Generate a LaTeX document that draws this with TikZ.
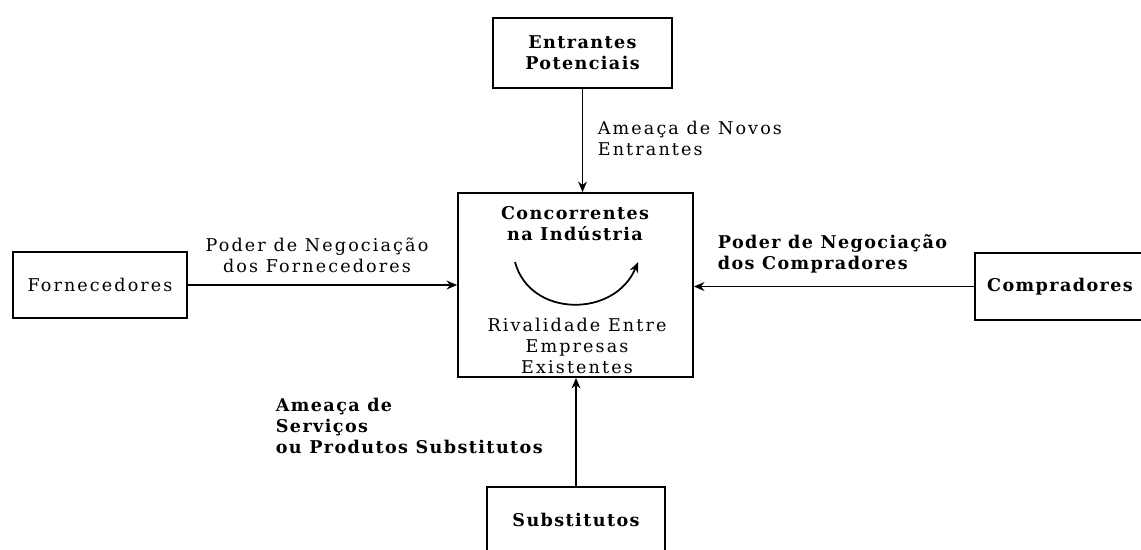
\documentclass[tikz,border=0pt]{standalone}
\usepackage{fontspec}
\setmainfont{DejaVu Serif}[UprightFeatures={LetterSpace=12}, BoldFeatures={LetterSpace=8}]
\usetikzlibrary{arrows.meta}
\begin{document}
\begin{tikzpicture}[x=0.02cm, y=-0.02cm, line width=1pt,
        font=\fontsize{10}{12}\selectfont,
        forca/.style={draw, align=center, inner sep=0pt},
        negrito/.style={font=\fontsize{10}{12}\selectfont\bfseries},
        rotulo/.style={inner sep=0pt, align=left},
        seta/.style={-{Stealth[length=6pt, width=5pt]}}]
        \useasboundingbox (0,0) rectangle (1141,549);
        \clip (0,0) rectangle (1141,549);
        \node[forca, negrito, minimum width=3.58cm, minimum height=1.4cm] (ent) at (582.5,53) {Entrantes\\Potenciais};
        \node[forca, minimum width=4.7cm, minimum height=3.68cm] (conc) at (575.5,285) {};
        \node[forca, minimum width=3.48cm, minimum height=1.32cm] (forn) at (100,285) {Fornecedores};
        \node[forca, negrito, minimum width=3.4cm, minimum height=1.34cm] (comp) at (1060,286.5) {Compradores};
        \node[forca, negrito, minimum width=3.56cm, minimum height=1.32cm] (subs) at (576,520) {Substitutos};
        \draw[seta] (ent.south) -- (ent.south |- conc.north);
        \draw[seta] (forn.east) -- (forn.east -| conc.west);
        \draw[seta] (comp.west) -- (comp.west -| conc.east);
        \draw[seta] (subs.north) -- (subs.north |- conc.south);
        % rivalidade dentro do quadro central
        \coordinate (arcA) at (515,262);
        \coordinate (arcB) at (638,262);
        \draw[seta] (arcA) .. controls (530,318) and (615,318) .. (arcB);
        \node[negrito, align=center, inner sep=0pt] (concT) at (575,224) {Concorrentes\\na Indústria};
        \node[align=center, inner sep=0pt] (rival) at (577,346) {Rivalidade Entre\\Empresas\\Existentes};
        % rotulos das forcas
        \node[rotulo, anchor=west] (novos) at (597,138) {Ameaça de Novos\\Entrantes};
        \node[rotulo, align=center] (negF) at (317,255) {Poder de Negociação\\dos Fornecedores};
        \node[rotulo, negrito, anchor=west] (negC) at (717,254) {Poder de Negociação\\dos Compradores};
        \node[rotulo, negrito, anchor=west] (amea) at (275,426) {Ameaça de\\Serviços\\ou Produtos Substitutos};
\end{tikzpicture}
\end{document}
